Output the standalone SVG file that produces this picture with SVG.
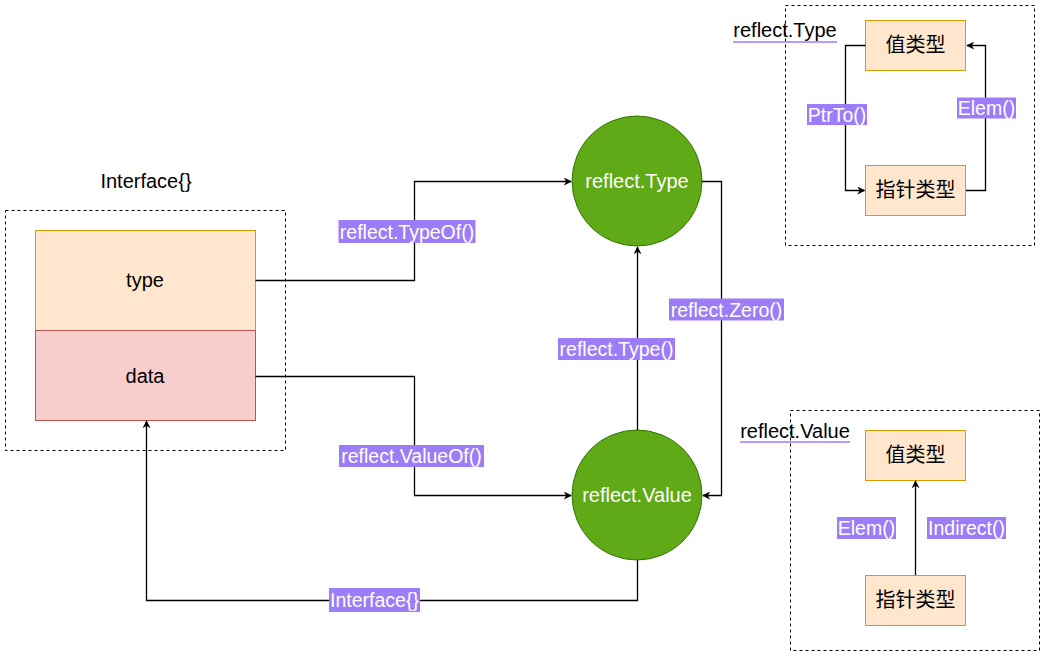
<svg xmlns="http://www.w3.org/2000/svg" width="1046" height="656" viewBox="0 0 1046 656">
<style>
text{font-family:"Liberation Sans",Arial,"Noto Sans CJK SC",sans-serif;text-anchor:middle;}
.t20{font-size:20px;fill:#000;}
.cn{font-size:20px;fill:#000;font-family:"Noto Sans CJK SC","Liberation Sans",sans-serif;}
.wt{font-size:20px;fill:#fff;}
.lbl{font-size:19.5px;fill:#fff;}
.lbg{fill:#9d7df7;}
.dash{fill:none;stroke:#000;stroke-dasharray:3 3;stroke-width:1;}
.or{fill:#ffe6cc;stroke:#d79b00;stroke-width:1;}
.rd{fill:#f8cecc;stroke:#b85450;stroke-width:1;}
.gr{fill:#60a917;stroke:#2d7600;stroke-width:1;}
.edge{fill:none;stroke:#000;stroke-width:1.3;}
.ul{stroke:#9d7df7;stroke-width:1.3;}
</style>
<defs>
<marker id="arr" viewBox="0 0 10 10" refX="9" refY="5" markerWidth="8" markerHeight="8" markerUnits="userSpaceOnUse" orient="auto">
<path d="M0,0 L10,5 L0,10 L3,5 Z" fill="#000"/>
</marker>
</defs>
<rect width="1046" height="656" fill="#fff"/>

<g id="interface">
<rect class="dash" x="5.5" y="210.5" width="280" height="240"/>
<text class="t20" x="146" y="188">Interface{}</text>
</g>
<g id="type">
<rect class="or" x="35.5" y="230.5" width="220" height="100"/>
<text class="t20" x="145" y="287">type</text>
</g>
<g id="data">
<rect class="rd" x="35.5" y="330.5" width="220" height="90"/>
<text class="t20" x="145" y="383">data</text>
</g>
<g id="reflectType">
<circle class="gr" cx="637" cy="181" r="65"/>
<text class="wt" x="637" y="188">reflect.Type</text>
</g>
<g id="reflectValue">
<circle class="gr" cx="637" cy="495" r="65"/>
<text class="wt" x="637" y="502">reflect.Value</text>
</g>

<g id="typeBox">
<rect class="dash" x="785.5" y="5.5" width="249" height="240"/>
<text class="t20" x="785" y="37">reflect.Type</text>
<line class="ul" x1="733" y1="42" x2="837" y2="42"/>
</g>
<g id="tValue">
<rect class="or" x="865.5" y="20.5" width="100" height="50"/>
<text class="cn" x="915.5" y="52">值类型</text>
</g>
<g id="tPtr">
<rect class="or" x="865.5" y="165.5" width="100" height="50"/>
<text class="cn" x="915.5" y="197">指针类型</text>
</g>

<g id="valueBox">
<rect class="dash" x="790.5" y="410.5" width="249" height="240"/>
<text class="t20" x="795" y="438">reflect.Value</text>
<line class="ul" x1="740" y1="442" x2="850" y2="442"/>
</g>
<g id="vValue">
<rect class="or" x="865.5" y="430.5" width="100" height="50"/>
<text class="cn" x="915.5" y="462">值类型</text>
</g>
<g id="vPtr">
<rect class="or" x="865.5" y="575.5" width="100" height="50"/>
<text class="cn" x="915.5" y="607">指针类型</text>
</g>

<g id="connectors">
<path class="edge" d="M255.5,280.5 H414.5 V181.5 H571" marker-end="url(#arr)"/>
<path class="edge" d="M255.5,376.5 H414.5 V495.5 H571" marker-end="url(#arr)"/>
<path class="edge" d="M637.5,430 V247" marker-end="url(#arr)"/>
<path class="edge" d="M702,181.5 H721.5 V495.5 H703" marker-end="url(#arr)"/>
<path class="edge" d="M637.5,560 V600.5 H146.5 V421" marker-end="url(#arr)"/>
<path class="edge" d="M865.5,45.5 H845.5 V190.5 H864.5" marker-end="url(#arr)"/>
<path class="edge" d="M966,190.5 H985.5 V45.5 H967" marker-end="url(#arr)"/>
<path class="edge" d="M915.5,575 V481" marker-end="url(#arr)"/>

<rect class="lbg" x="338.5" y="220" width="137" height="23"/>
<text class="lbl" x="407" y="238.5">reflect.TypeOf()</text>
<rect class="lbg" x="339" y="445" width="145" height="22"/>
<text class="lbl" x="411.5" y="463">reflect.ValueOf()</text>
<rect class="lbg" x="558" y="338" width="117" height="22"/>
<text class="lbl" x="616.5" y="356">reflect.Type()</text>
<rect class="lbg" x="669" y="298.5" width="115" height="22"/>
<text class="lbl" x="726.5" y="316.5">reflect.Zero()</text>
<rect class="lbg" x="329" y="588" width="91" height="24"/>
<text class="lbl" x="374.5" y="607">Interface{}</text>
<rect class="lbg" x="807" y="104" width="60" height="21"/>
<text class="lbl" x="837" y="121.5">PtrTo()</text>
<rect class="lbg" x="957" y="97.5" width="59" height="21"/>
<text class="lbl" x="986.5" y="115">Elem()</text>
<rect class="lbg" x="837" y="517" width="59" height="22"/>
<text class="lbl" x="866.5" y="535">Elem()</text>
<rect class="lbg" x="927" y="517" width="79" height="22"/>
<text class="lbl" x="966.5" y="535">Indirect()</text>
</g>
</svg>
